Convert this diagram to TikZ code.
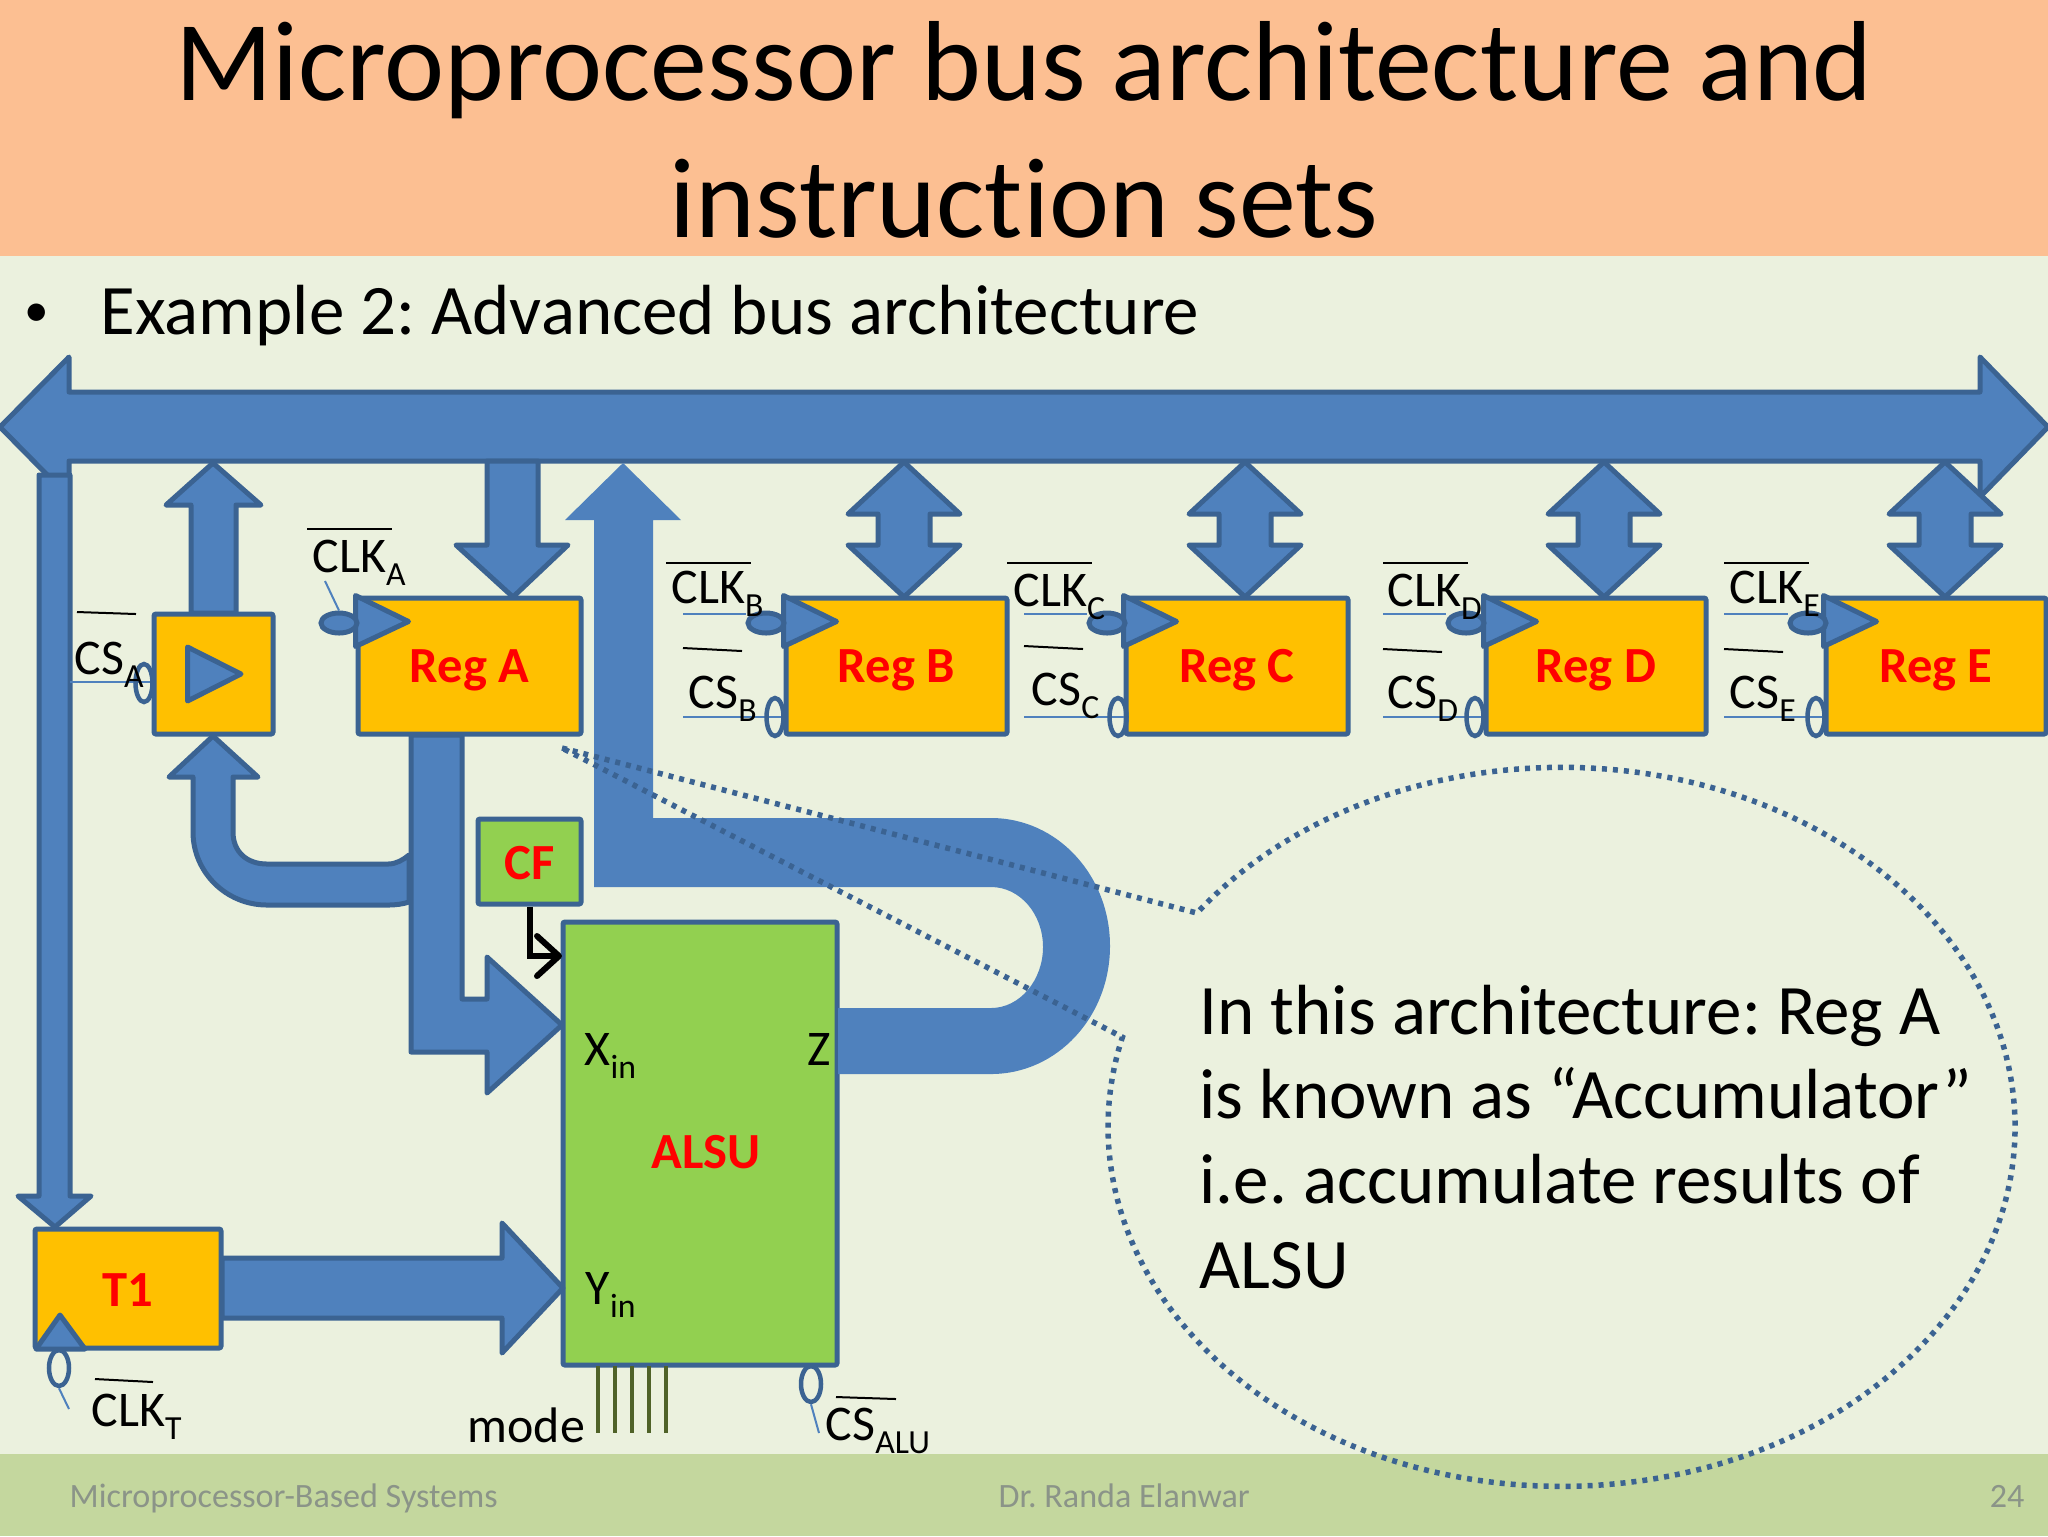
\documentclass[tikz,border=0pt]{standalone}
\usepackage{fontspec}
\setmainfont{Carlito}[Ligatures=NoCommon]
\usepackage{xcolor}
\usepackage{tikz}
\usetikzlibrary{arrows.meta, shapes.geometric}
\definecolor{slidebg}{HTML}{EBF1DE}
\definecolor{titlebg}{HTML}{FCBF92}
\definecolor{footbg}{HTML}{C4D79E}
\definecolor{footgray}{HTML}{8B9488}
\definecolor{busfill}{HTML}{4F81BD}
\definecolor{busline}{HTML}{3B6392}
\definecolor{regfill}{HTML}{FFC000}
\definecolor{alsufill}{HTML}{92D050}
\definecolor{modeline}{HTML}{4F6228}
\newcommand{\lowtxt}[1]{\raisebox{-1.3mm}{\fontsize{9.6}{10}\selectfont #1}}
\frenchspacing

\begin{document}
\begin{tikzpicture}[x=0.1mm,y=-0.1mm]
\tikzstyle{busarrow}=[fill=busfill, draw=busline, line width=0.5mm, line join=round]
\tikzstyle{flatarrow}=[fill=busfill]
\tikzstyle{block}=[rectangle, draw=busline, line width=0.5mm, inner sep=0pt, text=red, font=\fontsize{14.4}{16}\selectfont\bfseries, rounded corners=0.2mm]
\tikzstyle{regbox}=[block, fill=regfill, minimum height=13.6mm, text height=4.8mm, text depth=1.6mm]
\tikzstyle{alsubox}=[block, fill=alsufill]
\tikzstyle{clkbub}=[ellipse, fill=busfill, draw=busline, line width=0.5mm, minimum width=3.6mm, minimum height=2mm, inner sep=0pt]
\tikzstyle{csbub}=[ellipse, draw=busline, line width=0.45mm, minimum width=1.7mm, minimum height=3.8mm, inner sep=0pt]
\tikzstyle{thin}=[draw=busfill, line width=0.2mm]
\tikzstyle{bar}=[draw=black, line width=0.2mm]
\tikzstyle{lab}=[anchor=base west, inner sep=0pt, font=\fontsize{14.2}{16}\selectfont]
\tikzstyle{bold}=[anchor=center, inner sep=0pt, text=red, font=\fontsize{14.4}{16}\selectfont\bfseries]
\tikzstyle{foot}=[inner sep=0pt, text=footgray, font=\fontsize{9.7}{11}\selectfont]

\useasboundingbox (0,0) rectangle (2048,1536);
% slide
\fill[slidebg] (0,0) rectangle (2048,1536);
\fill[titlebg] (0,0) rectangle (2048,256);
\fill[footbg] (0,1454) rectangle (2048,1536);
\node[anchor=north, inner sep=0pt, align=center, font=\fontsize{32.4}{39}\selectfont] (title) at (1024,21)
  {Microprocessor bus architecture and\\instruction sets};
\node[anchor=base west, inner sep=0pt, font=\fontsize{14}{24}\selectfont] (bullet) at (24,326) {•};
\node[anchor=base west, inner sep=0pt, font=\fontsize{20.2}{24}\selectfont] (example) at (100,334) {Example 2: Advanced bus architecture};
\node[foot, anchor=base west] (course) at (69,1507) {Microprocessor-Based Systems};
\node[foot, anchor=base west] (teacher) at (998,1507) {Dr. Randa Elanwar};
\node[foot, anchor=base east] (page) at (2025,1507) {24};

% bus
\draw[busarrow] (0,427) -- (69,357) -- (69,392) -- (1980,392) -- (1980,357) -- (2048,427)
  -- (1980,497) -- (1980,461) -- (69,461) -- (69,497) -- cycle;
\draw[busarrow] (39,475) -- (70,475) -- (70,1196) -- (91,1196) -- (55,1227) -- (18,1196) -- (39,1196) -- cycle;

% blocks
\node[alsubox, fill=regfill, minimum width=11.9mm, minimum height=12mm] (buf) at (213.5,674) {};
\node[regbox, minimum width=22.3mm] (regA) at (469.5,666) {Reg A};
\node[regbox, minimum width=22.1mm] (regB) at (896.5,666) {Reg B};
\node[regbox, minimum width=22.2mm] (regC) at (1237,666) {Reg C};
\node[regbox, minimum width=22mm] (regD) at (1596,666) {Reg D};
\node[regbox, minimum width=22mm] (regE) at (1936,666) {Reg E};
\node[alsubox, minimum width=10.3mm, minimum height=8.5mm, text height=3.6mm, text depth=0pt] (cf) at (529.5,861.5) {CF};
\node[alsubox, minimum width=27.4mm, minimum height=44.3mm] (alsu) at (700,1143.5) {};
\node[regbox, minimum width=18.6mm, minimum height=11.9mm, text height=3.6mm, text depth=0pt] (t1) at (128,1288.5) {T1};
\node[bold] (alsutxt) at (706,1152) {ALSU};

% big arrow from Z back to the bus
\fill[flatarrow] (623,463) -- (681,520) -- (653,520) -- (653,818) -- (991,818)
  .. controls (1057,818) and (1110,875) .. (1110,946)
  .. controls (1110,1017) and (1057,1074) .. (991,1074) -- (838,1074) -- (838,1008) -- (991,1008)
  .. controls (1020,1008) and (1043,980) .. (1043,947)
  .. controls (1043,914) and (1020,887) .. (991,887) -- (594,887) -- (594,520) -- (565,520) -- cycle;

% block arrows
\draw[busarrow] (213,463) -- (261,505) -- (236,505) -- (236,613) -- (191,613) -- (191,505) -- (166,505) -- cycle;
\draw[busarrow] (487,461) -- (538,461) -- (538,545) -- (568,545) -- (513,597) -- (456,545) -- (487,545) -- cycle;
\foreach \tip in {904,1245,1604,1945}
  \draw[busarrow] (\tip,462) -- ++(56,52) -- ++(-30,0) -- ++(0,31) -- ++(30,0) -- ++(-56,52)
    -- ++(-56,-52) -- ++(30,0) -- ++(0,-31) -- ++(-30,0) -- cycle;
\draw[busarrow] (213,736) -- (258,777) -- (233,777) -- (233,832)
  .. controls (233,852) and (247,864) .. (267,864) -- (388,864)
  .. controls (396,864) and (403,860) .. (409,855) -- (409,902)
  .. controls (403,904) and (396,905) .. (388,905) -- (267,905)
  .. controls (226,905) and (193,872) .. (193,832) -- (193,777) -- (169,777) -- cycle;
\draw[busarrow] (411,735) -- (462,735) -- (462,999) -- (487,999) -- (487,957) -- (562,1025)
  -- (487,1093) -- (487,1052) -- (411,1052) -- cycle;
\draw[busarrow] (222,1258) -- (502,1258) -- (502,1223) -- (563,1288) -- (502,1353) -- (502,1318) -- (222,1318) -- cycle;

% clock and buffer triangles
\draw[busarrow] (187.5,647) -- (241,674) -- (187.5,701) -- cycle;
\foreach \nm in {A,B,C,D,E}
  \draw[busarrow] (reg\nm.north west) -- ++(53,26) -- ++(-53,25) -- cycle;
\draw[busarrow] (60,1315) -- (85,1349) -- (36,1349) -- cycle;

% carry flag
\coordinate (cfin) at (562,956);
\draw[black, line width=0.6mm, -{Straight Barb[length=2.2mm,width=4mm,round]}] (cf.south) |- (cfin);

% mode lines
\foreach \mx in {598,615,632,649,666}
  \draw[modeline, line width=0.35mm] (\mx,1366) -- (\mx,1433);

% register A and buffer controls
\coordinate (clklineA) at (325,581);
\node[clkbub] (bubA) at (339,623) {};
\draw[thin] (clklineA) -- (bubA.north);
\coordinate (cslineb) at (70,682);
\draw[thin] (cslineb) -- (cslineb -| buf.west);
\node[csbub] (bubb) at (144,683) {};
\draw[bar] (307,529) -- (392,529);
\node[lab] (clkA) at (312,572) {CLK\lowtxt{A}};
\draw[bar] (77,612) -- (136,614);
\node[lab] (csb) at (74,674) {CS\lowtxt{A}};

% register B to E controls
\foreach \nm/\ox/\cx/\cy/\lx/\bx/\oy/\sx/\sy/\ex in {B/666/671/603/683/766/648/688/708/775,
    C/1007/1013/606/1024/1107/646/1031/705/1118,
    D/1383/1387/606/1383/1466/649/1387/708/1475,
    E/1724/1729/603/1724/1808/649/1729/708/1816}
{
  \coordinate (clkline\nm) at (\lx,614);
  \coordinate (csline\nm) at (\lx,717);
  \node[clkbub] (bub\nm) at (\bx,623) {};
  \draw[thin] (clkline\nm) -- (clkline\nm -| bub\nm.west);
  \draw[thin] (csline\nm) -- (csline\nm -| reg\nm.west);
  \node[csbub] (csb\nm) at (\ex,717) {};
  \draw[bar] (\ox,563) -- ++(85,0);
  \node[lab] (clk\nm) at (\cx,\cy) {CLK\lowtxt{\nm}};
  \draw[bar] (\lx,\oy) -- ++(59,3);
  \node[lab] (cs\nm) at (\sx,\sy) {CS\lowtxt{\nm}};
}

% T1 and ALSU labels
\node[csbub, minimum width=2mm, minimum height=3.6mm] (bubt) at (59,1368) {};
\coordinate (clklinet) at (69,1409);
\draw[thin] (bubt.south) -- (clklinet);
\draw[bar] (95,1379) -- (153,1382);
\node[lab] (clkt) at (91,1426) {CLK\lowtxt{T}};
\node[csbub, minimum width=2mm, minimum height=3.6mm] (bubalu) at (811,1384) {};
\coordinate (cslinealu) at (819,1433);
\draw[thin] (bubalu.south) -- (cslinealu);
\draw[bar] (836,1397) -- (896,1399);
\node[lab] (csalu) at (825,1440) {CS\lowtxt{ALU}};
\node[lab] (mode) at (467,1442) {mode};
\node[lab] (xin) at (584,1065) {X\lowtxt{in}};
\node[lab] (yin) at (585,1304) {Y\lowtxt{in}};
\node[lab] (zout) at (807,1065) {Z};

% callout
\coordinate (calltip) at (562,748);
\coordinate (callup) at (1197,913);
\draw[busline, line width=0.55mm, dash pattern=on 0.5mm off 0.6mm] (calltip) -- (callup)
  arc[start angle=143.5, end angle=-194.45, x radius=45.35mm, y radius=35.95mm] -- cycle;
\node[anchor=north west, inner sep=0pt, align=left, font=\fontsize{20.2}{24.1}\selectfont] (note) at (1199,984)
  {In this architecture: Reg A\\is known as “Accumulator”\\i.e. accumulate results of\\ALSU};
\end{tikzpicture}
\end{document}
